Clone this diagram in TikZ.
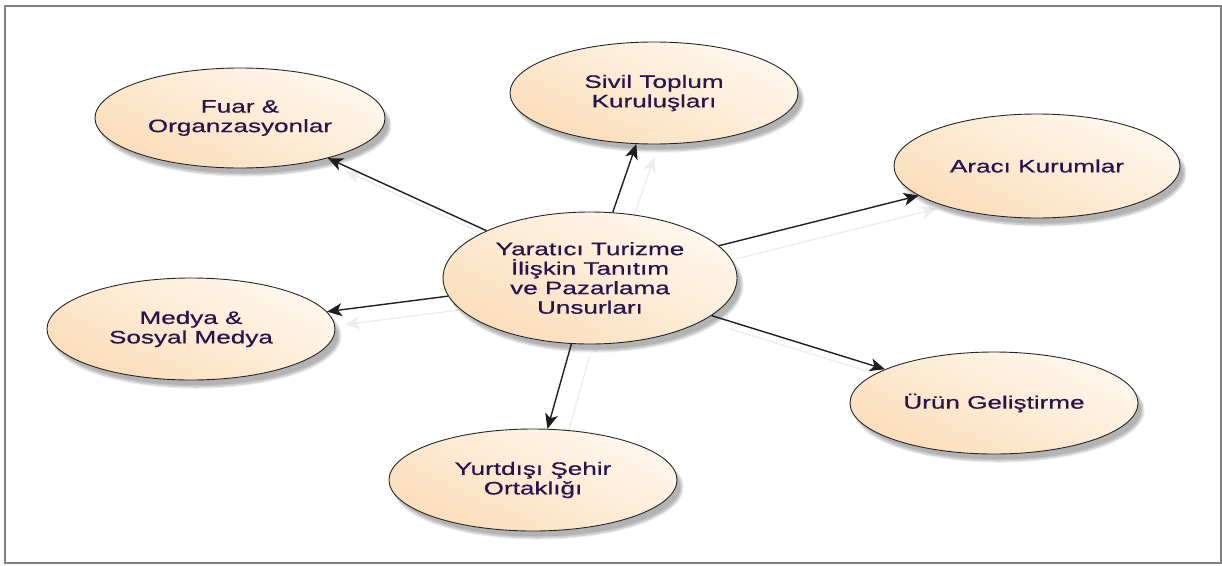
\documentclass[tikz,border=0pt]{standalone}
\usepackage{fontspec}
\setmainfont[FakeStretch=1.45,FakeBold=0.6]{Liberation Sans}
\usetikzlibrary{shapes.geometric,arrows.meta,shadows.blur}
\definecolor{txt}{RGB}{40,20,75}
\definecolor{elA}{RGB}{255,248,238}
\definecolor{elB}{RGB}{251,221,186}
\definecolor{lnc}{RGB}{30,30,30}
\definecolor{frm}{RGB}{128,128,128}
\pgfdeclarelayer{bg}
\pgfsetlayers{bg,main}
\begin{document}
\begin{tikzpicture}[x=1pt,y=-1pt,
  bubble/.style={ellipse, draw=black!85, line width=0.9pt,
    minimum width=288pt, minimum height=102pt, inner sep=0pt,
    align=center, text=txt, font=\fontsize{18}{19.5}\selectfont,
    top color=elA, bottom color=elB, shading angle=-25,
    blur shadow={shadow xshift=5pt, shadow yshift=-7pt,
      shadow blur steps=8, shadow opacity=30}},
  link/.style={draw=lnc, line width=1.4pt,
    -{Stealth[length=15pt,width=13pt,inset=4pt]}},
  ghost/.style={draw=black!7, line width=1.4pt,
    -{Stealth[length=15pt,width=13pt,inset=4pt]},
    transform canvas={shift={(18pt,-13pt)}}}
]
\useasboundingbox (0,0) rectangle (1222,565);
\draw[frm, line width=2pt] (5,6) rectangle (1221,563);

\node[bubble, minimum width=294pt, minimum height=132pt] (c) at (590,278)
  {Yaratıcı Turizme\\İlişkin Tanıtım\\ve Pazarlama\\Unsurları};
\node[bubble, minimum width=290pt, minimum height=100pt] (fuar) at (240,118)
  {Fuar \&\\Organzasyonlar};
\node[bubble] (stk) at (654,93) {Sivil Toplum\\Kuruluşları};
\node[bubble, minimum width=286pt, minimum height=104pt] (araci) at (1037,166)
  {Aracı Kurumlar};
\node[bubble] (medya) at (191,329) {Medya \&\\Sosyal Medya};
\node[bubble] (urun) at (994,403) {Ürün Geliştirme};
\node[bubble] (yurt) at (533,480) {Yurtdışı Şehir\\Ortaklığı};

\begin{pgfonlayer}{bg}
  \draw[ghost] (c) -- (fuar);
  \draw[ghost] (c) -- (stk);
  \draw[ghost] (c) -- (araci);
  \draw[ghost] (c) -- (medya);
  \draw[ghost] (c) -- (urun);
  \draw[ghost] (c) -- (yurt);
\end{pgfonlayer}

\draw[link] (c) -- (fuar);
\draw[link] (c) -- (stk);
\draw[link] (c) -- (araci);
\draw[link] (c) -- (medya);
\draw[link] (c) -- (urun);
\draw[link] (c) -- (yurt);
\end{tikzpicture}
\end{document}
